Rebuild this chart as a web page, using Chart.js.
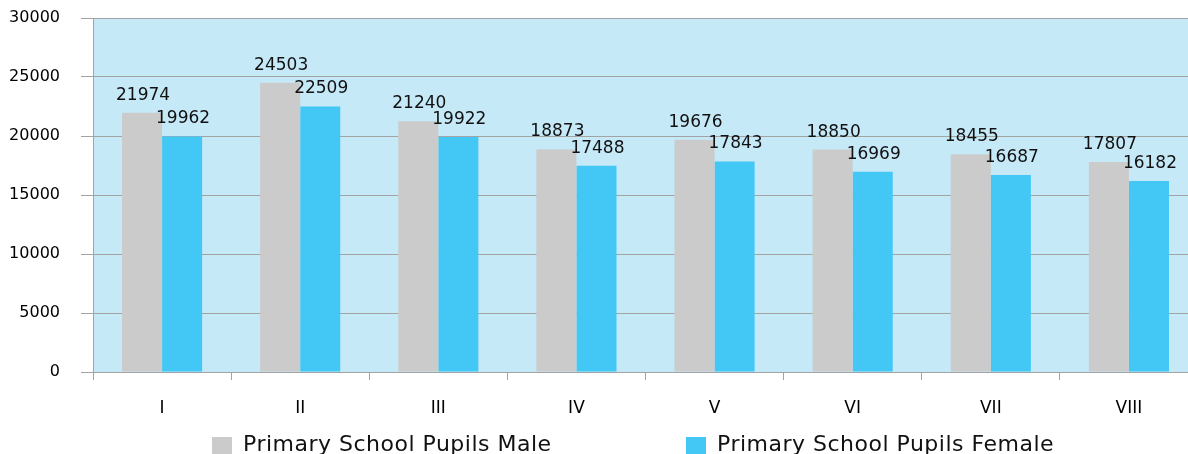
<!DOCTYPE html>
<html>
<head>
<meta charset="utf-8">
<script src="https://cdn.jsdelivr.net/npm/chart.js@4.4.1/dist/chart.umd.min.js"></script>
<style>
  html, body { margin: 0; padding: 0; background: #fff; overflow: hidden; }
  #wrap { position: relative; width: 1200px; height: 454px; }
</style>
</head>
<body>
<div id="wrap"><canvas id="chart"></canvas></div>
<script>
// data
const grades = ['I', 'II', 'III', 'IV', 'V', 'VI', 'VII', 'VIII'];
const maleLabel = 'Primary School Pupils Male';
const femaleLabel = 'Primary School Pupils Female';
const malePupils = [21974, 24503, 21240, 18873, 19676, 18850, 18455, 17807];
const femalePupils = [19962, 22509, 19922, 17488, 17843, 16969, 16687, 16182];
const yTicks = [0, 5000, 10000, 15000, 20000, 25000, 30000];

const GRAY = '#cbcbcb', CYAN = '#43c8f5', PLOT_BG = '#c6e9f8', GRID = '#a3a3a3';
const FONT = '"DejaVu Sans", sans-serif';

// light blue fill behind the plot area
const plotBg = {
  id: 'plotBg',
  beforeDraw(chart) {
    const a = chart.chartArea, ctx = chart.ctx;
    ctx.save();
    ctx.fillStyle = PLOT_BG;
    ctx.fillRect(a.left, a.top, a.right - a.left, a.bottom - a.top);
    ctx.restore();
  }
};

// value labels above each bar
const barValues = {
  id: 'barValues',
  afterDatasetsDraw(chart) {
    const ctx = chart.ctx;
    ctx.save();
    ctx.font = '17px ' + FONT;
    ctx.fillStyle = '#111';
    ctx.textAlign = 'center';
    ctx.textBaseline = 'alphabetic';
    chart.data.datasets.forEach((ds, i) => {
      chart.getDatasetMeta(i).data.forEach((bar, j) => {
        ctx.fillText(String(ds.data[j]), bar.x + 1, bar.y - 13);
      });
    });
    ctx.restore();
  }
};

// legend drawn by hand so it can sit where the original one sits
const bottomLegend = {
  id: 'bottomLegend',
  afterDraw(chart, args, opts) {
    const ctx = chart.ctx;
    ctx.save();
    ctx.font = '22px ' + FONT;
    ctx.letterSpacing = '0.5px';
    ctx.textBaseline = 'alphabetic';
    chart.data.datasets.forEach((ds, i) => {
      const x = opts.x[i];
      ctx.fillStyle = ds.backgroundColor;
      ctx.fillRect(x, 437, 20, 17);
      ctx.fillStyle = '#111';
      ctx.fillText(ds.label, x + 31, 451);
    });
    ctx.restore();
  }
};

new Chart(document.getElementById('chart'), {
  type: 'bar',
  data: {
    labels: grades,
    datasets: [
      { label: maleLabel, data: malePupils, backgroundColor: GRAY },
      { label: femaleLabel, data: femalePupils, backgroundColor: CYAN }
    ]
  },
  options: {
    responsive: true,
    maintainAspectRatio: false,
    animation: false,
    layout: { padding: { top: 18, right: 2, bottom: 37, left: 0 } },
    datasets: { bar: { categoryPercentage: 0.58, barPercentage: 1.0 } },
    plugins: {
      legend: { display: false },
      tooltip: { enabled: false },
      bottomLegend: { x: [212, 686] }
    },
    scales: {
      x: {
        afterFit(s) { s.height = 45; s.paddingLeft = 0; s.paddingRight = 0; },
        grid: { offset: true, drawOnChartArea: false, tickLength: 8, color: GRID },
        border: { color: GRID },
        ticks: { color: '#000', font: { family: FONT, size: 17 }, padding: 18 }
      },
      y: {
        min: 0, max: 30000,
        afterFit(s) { s.width = 93; s.paddingTop = 0; s.paddingBottom = 0; },
        afterBuildTicks(s) { s.ticks = yTicks.map(v => ({ value: v })); },
        grid: { color: GRID, tickLength: 12 },
        border: { color: GRID },
        ticks: {
          color: '#000', font: { family: FONT, size: 16 }, padding: 21,
          callback: v => String(v)
        }
      }
    }
  },
  plugins: [plotBg, barValues, bottomLegend]
});
</script>
</body>
</html>
